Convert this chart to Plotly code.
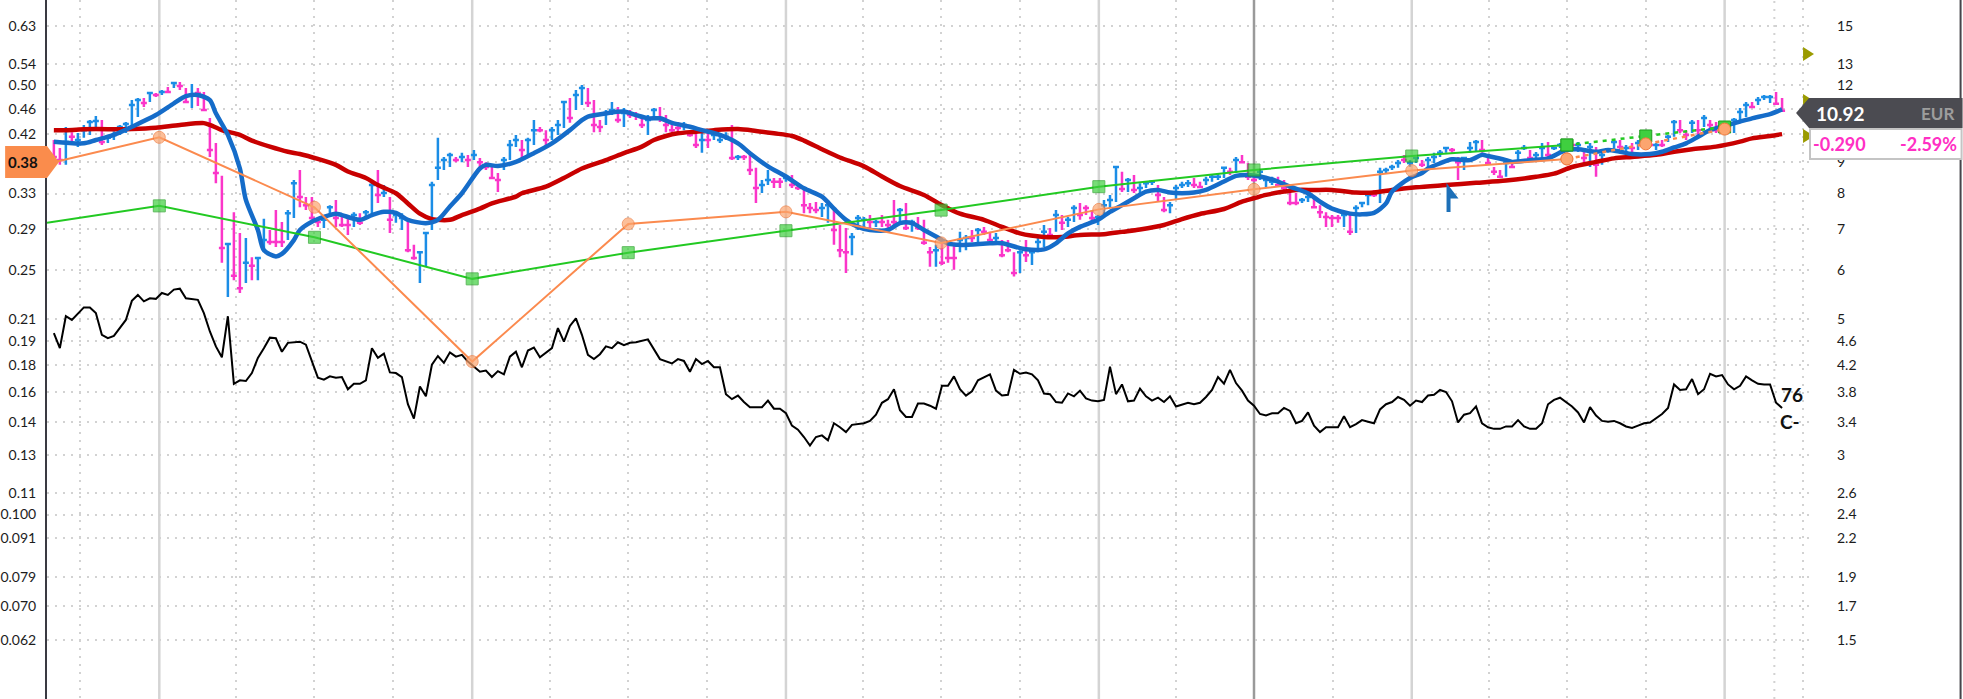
import numpy as np
import pandas as pd
import plotly.graph_objects as go

# ---------------- data ----------------
FIRST_BAR = "2018-08-31"   # weekly bars

BAR_HIGH = [
    9.78, 9.49, 10.27, 10.07, 10.04, 10.35, 10.54, 10.70, 10.54, 9.97,
    10.11, 10.35, 10.46, 11.36, 11.45, 11.45, 11.71, 11.67, 11.80, 11.93,
    12.16, 12.16, 11.89, 12.07, 11.89, 11.71, 10.62, 9.67, 8.55, 6.65,
    7.46, 6.90, 6.77, 6.30, 6.28, 7.28, 6.98, 7.52, 7.19, 7.52,
    8.42, 8.74, 7.90, 7.90, 7.33, 7.33, 7.66, 7.81, 7.38, 7.33,
    7.46, 7.43, 7.52, 8.36, 8.74, 8.26, 7.90, 7.46, 7.43, 7.30,
    6.60, 6.42, 6.90, 8.36, 9.86, 9.18, 9.32, 9.18, 9.32, 9.25,
    9.42, 9.14, 9.00, 8.91, 8.64, 9.18, 9.78, 9.97, 9.78, 9.86,
    10.54, 10.27, 10.15, 10.27, 10.54, 11.28, 11.45, 11.80, 12.02, 11.89,
    11.36, 10.54, 10.95, 11.28, 11.07, 11.03, 10.95, 10.86, 10.66, 10.74,
    11.03, 11.07, 10.74, 10.46, 10.46, 10.46, 10.15, 10.07, 10.07, 10.15,
    10.07, 10.04, 10.07, 10.35, 9.25, 9.25, 9.25, 8.81, 8.42, 8.74,
    8.48, 8.48, 8.58, 8.58, 8.32, 8.20, 7.72, 7.75, 7.72, 7.81,
    7.58, 7.11, 7.03, 6.90, 7.38, 7.33, 7.38, 7.25, 7.38, 7.25,
    7.81, 7.58, 7.72, 7.25, 7.33, 7.25, 6.55, 6.60, 6.67, 6.60,
    6.65, 6.93, 6.85, 6.98, 7.03, 7.06, 6.93, 6.90, 6.72, 6.72,
    6.42, 6.47, 6.72, 6.47, 6.77, 7.11, 7.03, 7.52, 7.38, 7.33,
    7.66, 7.72, 7.66, 7.52, 7.38, 7.81, 7.96, 8.84, 8.68, 8.48,
    8.58, 8.32, 8.36, 8.42, 8.26, 7.90, 7.75, 8.26, 8.36, 8.42,
    8.48, 8.36, 8.52, 8.58, 8.64, 8.84, 8.81, 9.18, 9.25, 8.97,
    8.52, 8.74, 8.52, 8.52, 8.52, 8.42, 8.11, 8.02, 7.87, 8.02,
    7.87, 7.66, 7.46, 7.38, 7.38, 7.46, 7.43, 7.66, 7.75, 8.02,
    8.11, 8.81, 8.81, 8.91, 9.07, 9.25, 9.07, 9.18, 9.07, 9.18,
    9.32, 9.42, 9.53, 9.49, 9.18, 9.18, 9.71, 9.78, 9.78, 9.18,
    8.84, 8.74, 9.07, 8.97, 9.42, 9.60, 9.42, 9.35, 9.67, 9.71,
    9.53, 9.67, 9.71, 9.78, 9.71, 9.35, 9.67, 9.53, 9.42, 9.49,
    9.78, 9.78, 9.60, 9.67, 9.78, 9.86, 9.86, 9.67, 9.78, 9.97,
    10.54, 10.54, 10.15, 10.54, 10.54, 10.74, 10.54, 10.46, 10.43, 10.35,
    10.62, 11.03, 11.28, 11.28, 11.49, 11.58, 11.58, 11.71, 11.45,
]
BAR_LOW = [
    9.00, 8.91, 8.91, 9.71, 9.53, 9.86, 9.97, 10.27, 9.60, 9.67,
    9.78, 9.97, 10.04, 10.15, 10.66, 11.07, 11.28, 11.49, 11.58, 11.67,
    11.89, 11.80, 11.24, 11.03, 11.11, 10.91, 9.18, 8.32, 6.17, 5.43,
    5.78, 5.51, 5.72, 5.78, 5.78, 6.42, 6.60, 6.55, 6.55, 6.72,
    7.30, 7.60, 7.52, 7.25, 7.06, 7.03, 7.33, 7.06, 7.06, 6.85,
    7.06, 7.11, 7.33, 7.33, 7.72, 7.90, 6.90, 7.17, 6.98, 6.42,
    6.24, 5.72, 6.08, 6.98, 8.42, 8.74, 8.84, 9.00, 9.00, 8.84,
    9.07, 8.74, 8.74, 8.48, 8.05, 8.74, 9.07, 9.53, 9.07, 9.25,
    9.60, 10.07, 9.49, 9.78, 9.97, 10.23, 10.43, 10.95, 11.15, 11.07,
    10.07, 10.07, 10.35, 10.74, 10.43, 10.27, 10.62, 10.54, 10.23, 9.97,
    10.66, 10.46, 10.07, 10.07, 10.07, 10.15, 9.90, 9.49, 9.32, 9.49,
    9.78, 9.67, 9.78, 9.07, 9.07, 9.07, 8.58, 7.72, 8.02, 8.26,
    8.17, 8.17, 8.36, 8.17, 8.11, 7.43, 7.43, 7.43, 7.33, 7.17,
    6.60, 6.30, 5.94, 6.35, 6.98, 7.03, 6.98, 7.06, 7.06, 7.03,
    7.06, 7.11, 6.98, 6.93, 6.98, 6.60, 6.08, 6.08, 6.12, 6.17,
    6.01, 6.42, 6.47, 6.67, 6.67, 6.85, 6.72, 6.60, 6.30, 6.42,
    5.86, 5.94, 6.19, 6.12, 6.42, 6.55, 6.80, 6.93, 6.98, 7.06,
    7.19, 7.25, 7.38, 7.19, 7.11, 7.38, 7.58, 7.75, 8.05, 8.05,
    8.02, 8.02, 8.17, 8.26, 7.75, 7.46, 7.43, 7.81, 8.17, 8.20,
    8.17, 8.17, 8.26, 8.36, 8.42, 8.48, 8.58, 8.64, 8.97, 8.42,
    8.36, 8.42, 8.20, 8.26, 8.20, 8.05, 7.66, 7.66, 7.72, 7.75,
    7.58, 7.30, 7.06, 7.06, 7.17, 7.06, 6.85, 6.90, 7.60, 7.66,
    7.90, 7.72, 8.64, 8.74, 8.81, 8.97, 8.84, 8.97, 8.84, 8.84,
    8.97, 9.18, 9.32, 9.32, 8.42, 8.74, 9.32, 9.35, 9.32, 8.91,
    8.58, 8.48, 8.52, 8.81, 8.97, 9.42, 9.07, 9.07, 9.14, 9.18,
    9.42, 9.49, 9.53, 9.53, 9.35, 9.00, 8.84, 8.52, 8.91, 9.32,
    9.42, 9.42, 9.32, 9.35, 9.42, 9.56, 9.53, 9.42, 9.53, 9.71,
    9.90, 10.04, 9.78, 10.04, 9.97, 10.27, 10.15, 10.04, 10.07, 10.07,
    10.04, 10.46, 10.66, 11.03, 11.15, 11.36, 11.24, 11.15, 10.86,
]
BAR_CLOSE = [
    9.18, 9.07, 9.71, 9.90, 9.78, 10.15, 10.46, 10.50, 9.71, 9.86,
    9.97, 10.27, 10.39, 11.15, 11.36, 11.24, 11.67, 11.58, 11.71, 11.71,
    12.11, 11.98, 11.28, 11.58, 11.67, 10.95, 9.42, 8.64, 6.52, 6.62,
    5.88, 5.61, 6.17, 6.10, 6.28, 6.72, 6.67, 6.67, 6.67, 7.43,
    8.32, 7.90, 7.66, 7.30, 7.19, 7.25, 7.60, 7.30, 7.11, 7.11,
    7.38, 7.17, 7.46, 8.26, 7.96, 8.02, 7.25, 7.38, 7.30, 6.47,
    6.28, 6.42, 6.90, 8.26, 8.81, 9.07, 9.25, 9.07, 9.18, 9.07,
    9.25, 9.00, 8.84, 8.48, 8.42, 9.07, 9.60, 9.78, 9.42, 9.78,
    10.15, 10.15, 9.78, 10.15, 10.35, 11.28, 10.62, 11.58, 11.89, 11.24,
    10.35, 10.27, 10.82, 10.95, 10.54, 10.82, 10.74, 10.74, 10.35, 10.54,
    10.95, 10.62, 10.35, 10.15, 10.23, 10.35, 9.97, 9.60, 9.78, 9.78,
    9.97, 9.78, 9.90, 9.14, 9.18, 9.18, 8.74, 8.17, 8.26, 8.42,
    8.36, 8.36, 8.48, 8.26, 8.17, 7.66, 7.58, 7.52, 7.58, 7.66,
    6.98, 6.47, 6.42, 6.80, 7.30, 7.25, 7.19, 7.19, 7.19, 7.11,
    7.19, 7.52, 7.03, 7.19, 7.03, 6.65, 6.42, 6.47, 6.17, 6.28,
    6.28, 6.72, 6.77, 6.77, 6.98, 6.93, 6.72, 6.77, 6.35, 6.47,
    5.94, 6.42, 6.35, 6.42, 6.67, 6.93, 6.85, 7.38, 7.17, 7.25,
    7.58, 7.38, 7.58, 7.30, 7.33, 7.66, 7.81, 8.84, 8.14, 8.42,
    8.11, 8.17, 8.32, 8.36, 7.96, 7.52, 7.66, 8.17, 8.26, 8.32,
    8.26, 8.20, 8.42, 8.52, 8.52, 8.81, 8.68, 9.07, 9.00, 8.52,
    8.42, 8.68, 8.42, 8.36, 8.26, 8.17, 7.72, 7.72, 7.81, 7.90,
    7.60, 7.46, 7.33, 7.30, 7.30, 7.38, 6.93, 7.58, 7.72, 7.96,
    7.96, 8.68, 8.74, 8.84, 8.97, 9.07, 8.97, 9.14, 8.91, 9.07,
    9.18, 9.32, 9.49, 9.42, 9.00, 9.14, 9.49, 9.71, 9.42, 8.97,
    8.68, 8.52, 8.97, 8.84, 9.32, 9.49, 9.14, 9.25, 9.49, 9.25,
    9.49, 9.60, 9.67, 9.60, 9.60, 9.14, 9.53, 8.91, 9.25, 9.42,
    9.71, 9.53, 9.49, 9.49, 9.67, 9.78, 9.60, 9.60, 9.60, 9.90,
    10.46, 10.15, 9.97, 10.43, 10.15, 10.62, 10.35, 10.15, 10.27, 10.27,
    10.54, 10.86, 11.15, 11.07, 11.36, 11.49, 11.49, 11.21, 10.92,
]
# u = blue (up) bar, d = magenta (down) bar
BAR_DIR = ("dduduuuudu" "uuuuududud" "uddudddddu" "dduduudddu" "udddduuddd"
           "uduududuud" "duuuuuudud" "udddduuudu" "udduuuduud" "dduududddu"
           "udddduddud" "uuududdduu" "dduddddduu" "ddduuududd" "dududddudd"
           "duududdudd" "duduuududu" "uddduuuudu" "duuudduuuu" "dduuuududd"
           "duuudddduu" "ddddduduuu" "duuuuduudu" "uuudduuudd" "dduduuduud"
           "uuudududuu" "ududuududu" "uddududduu" "uuuduuudd")

# black relative-strength line (bar index, value)
BLACK_IDX = ([0, 1, 2, 3, 5, 6, 7, 8, 9, 10, 12, 13, 14, 15, 16, 17, 18, 19, 20, 21,
              22, 24, 25, 26, 27, 28, 29, 30, 31, 32, 33, 34, 35, 36, 37, 38, 39, 41, 42, 44,
              45, 46, 47, 48, 49, 50, 51, 52, 53, 54, 55, 56, 57, 58, 59, 60, 61, 62, 63, 64,
              65, 66, 67, 68, 69, 71, 72, 73, 74, 75, 76, 77, 78, 79, 80, 81, 83, 84, 85, 86,
              87, 88, 89, 90, 91, 92, 93, 94, 95, 96, 97, 99, 101, 103, 104, 105, 106, 107, 108, 109,
              110, 111, 112, 113, 114, 115, 116, 118, 119, 120, 121, 122, 123, 124, 125, 126, 127, 128, 129, 130,
              131, 132, 133, 135, 136, 137, 138, 139, 140, 141, 142, 143, 144, 145, 146, 147, 148, 149, 150, 151,
              152, 153, 154, 156, 157, 158, 159]
             + list(range(160, 289)))
BLACK_VAL = [
    4.74, 4.48, 5.05, 4.98, 5.22, 5.22, 5.11, 4.71, 4.65, 4.69, 4.98, 5.35, 5.47, 5.34, 5.40, 5.39, 5.51, 5.47, 5.58, 5.60,
    5.40, 5.37, 5.11, 4.77, 4.51, 4.33, 5.05, 3.92, 3.97, 3.96, 4.08, 4.32, 4.48, 4.66, 4.65, 4.42, 4.57, 4.59, 4.54, 4.01,
    3.98, 4.03, 4.01, 4.02, 3.84, 3.92, 3.92, 3.97, 4.48, 4.32, 4.39, 4.09, 4.08, 4.02, 3.63, 3.44, 3.88, 3.74, 4.21, 4.35,
    4.24, 4.41, 4.34, 4.37, 4.26, 4.10, 4.12, 4.02, 4.11, 4.06, 4.34, 4.42, 4.17, 4.44, 4.49, 4.33, 4.48, 4.83, 4.59, 4.87,
    5.01, 4.71, 4.37, 4.30, 4.38, 4.51, 4.48, 4.58, 4.53, 4.57, 4.58, 4.63, 4.30, 4.23, 4.30, 4.27, 4.10, 4.30, 4.22, 4.27,
    4.17, 4.17, 3.77, 3.70, 3.75, 3.66, 3.59, 3.59, 3.68, 3.57, 3.57, 3.51, 3.35, 3.30, 3.21, 3.11, 3.21, 3.23, 3.17, 3.38,
    3.33, 3.27, 3.36, 3.38, 3.41, 3.49, 3.65, 3.70, 3.84, 3.55, 3.46, 3.46, 3.64, 3.64, 3.61, 3.57, 3.89, 3.89, 4.03, 3.84,
    3.75, 3.81, 3.97, 4.06, 3.82, 3.75, 3.76,
    4.13, 4.07, 4.09, 4.06, 3.97, 3.78, 3.77, 3.66, 3.65, 3.78,
    3.74, 3.82, 3.71, 3.68, 3.67, 3.69, 4.18, 3.77, 3.91, 3.67,
    3.68, 3.85, 3.74, 3.68, 3.72, 3.66, 3.74, 3.60, 3.63, 3.65,
    3.63, 3.65, 3.73, 3.83, 4.02, 3.92, 4.13, 3.93, 3.82, 3.68,
    3.61, 3.50, 3.48, 3.51, 3.51, 3.58, 3.54, 3.38, 3.41, 3.52,
    3.35, 3.27, 3.33, 3.33, 3.33, 3.47, 3.33, 3.37, 3.42, 3.40,
    3.38, 3.56, 3.63, 3.66, 3.73, 3.69, 3.61, 3.68, 3.66, 3.75,
    3.76, 3.83, 3.80, 3.67, 3.39, 3.49, 3.51, 3.60, 3.38, 3.33,
    3.31, 3.31, 3.34, 3.34, 3.42, 3.34, 3.31, 3.31, 3.38, 3.63,
    3.69, 3.72, 3.66, 3.60, 3.52, 3.39, 3.59, 3.48, 3.41, 3.40,
    3.41, 3.38, 3.34, 3.32, 3.35, 3.38, 3.39, 3.44, 3.50, 3.58,
    3.91, 3.83, 3.84, 3.99, 3.77, 3.84, 4.07, 4.03, 4.05, 3.91,
    3.84, 3.89, 4.03, 3.97, 3.92, 3.91, 3.91, 3.65, 3.58,
]

# short (blue) moving average, sampled
BLUE_MA_IDX = [0, 5, 7, 10, 13, 17, 20, 22, 24, 26, 27, 29, 31, 32, 34, 35, 37, 38, 40, 41,
               43, 45, 47, 48, 51, 53, 55, 57, 59, 62, 64, 66, 68, 71, 72, 74, 77, 80, 83, 86,
               88, 89, 92, 95, 97, 99, 101, 103, 106, 108, 111, 114, 116, 119, 122, 125, 128, 130, 132, 134,
               136, 139, 141, 143, 145, 147, 149, 151, 156, 158, 161, 162, 165, 167, 169, 171, 174, 176, 178, 180,
               182, 184, 186, 188, 190, 192, 195, 197, 199, 201, 204, 206, 209, 211, 213, 216, 218, 220, 222, 223,
               226, 228, 229, 231, 233, 236, 238, 239, 242, 243, 246, 249, 252, 254, 257, 259, 261, 263, 266, 268,
               270, 272, 274, 276, 279, 281, 283, 286, 288]
BLUE_MA_VAL = [9.72, 9.66, 9.78, 9.97, 10.28, 10.74, 11.22, 11.53, 11.58, 11.36, 10.81, 9.97, 8.79, 7.81, 6.98, 6.47, 6.32, 6.38, 6.72, 6.98,
               7.20, 7.33, 7.42, 7.38, 7.25, 7.38, 7.47, 7.44, 7.25, 7.16, 7.25, 7.62, 8.01, 8.79, 8.91, 8.87, 9.01, 9.31, 9.66, 10.15,
               10.54, 10.68, 10.81, 10.88, 10.74, 10.61, 10.61, 10.43, 10.28, 10.15, 9.97, 9.66, 9.31, 8.86, 8.53, 8.16, 7.91, 7.56, 7.25, 7.06,
               6.98, 6.98, 7.16, 7.16, 6.98, 6.81, 6.64, 6.60, 6.64, 6.64, 6.52, 6.49, 6.49, 6.64, 6.89, 7.06, 7.25, 7.47, 7.66, 7.86,
               8.06, 8.11, 8.03, 8.01, 8.03, 8.11, 8.37, 8.55, 8.58, 8.53, 8.37, 8.21, 8.01, 7.76, 7.56, 7.42, 7.40, 7.44, 7.71, 8.06,
               8.48, 8.64, 8.79, 8.96, 9.10, 9.07, 9.25, 9.21, 9.07, 9.01, 9.07, 9.13, 9.42, 9.45, 9.36, 9.42, 9.36, 9.28, 9.28, 9.36,
               9.51, 9.66, 9.90, 10.15, 10.35, 10.48, 10.61, 10.78, 10.97]

# long (red) moving average, sampled
RED_MA_IDX = [0, 2, 5, 7, 11, 13, 17, 21, 25, 26, 28, 31, 33, 36, 39, 41, 44, 47, 49, 52,
              54, 57, 59, 61, 63, 66, 68, 71, 73, 77, 78, 82, 85, 88, 92, 95, 98, 100, 102, 104,
              107, 110, 114, 117, 120, 123, 125, 128, 131, 135, 138, 141, 145, 148, 151, 155, 158, 161, 165, 168,
              171, 175, 178, 181, 185, 188, 191, 195, 198, 200, 202, 205, 207, 210, 213, 217, 220, 223, 227, 232,
              237, 242, 247, 250, 253, 257, 260, 263, 267, 270, 273, 277, 281, 283, 286, 288]
RED_MA_VAL = [10.15, 10.15, 10.18, 10.19, 10.18, 10.19, 10.24, 10.35, 10.42, 10.35, 10.15, 9.97, 9.76, 9.54, 9.36, 9.28, 9.11, 8.91, 8.69, 8.48,
              8.26, 8.01, 7.71, 7.42, 7.27, 7.25, 7.38, 7.56, 7.71, 7.91, 8.01, 8.21, 8.48, 8.79, 9.07, 9.31, 9.54, 9.78, 9.93, 10.03,
              10.09, 10.15, 10.19, 10.12, 10.03, 9.93, 9.76, 9.45, 9.16, 8.86, 8.53, 8.23, 7.96, 7.66, 7.42, 7.25, 7.06, 6.89, 6.80, 6.80,
              6.85, 6.87, 6.93, 6.99, 7.11, 7.27, 7.41, 7.55, 7.76, 7.86, 7.96, 8.06, 8.11, 8.11, 8.11, 8.03, 8.03, 8.11, 8.19, 8.26,
              8.33, 8.40, 8.52, 8.62, 8.84, 9.01, 9.13, 9.18, 9.25, 9.36, 9.45, 9.54, 9.72, 9.84, 9.93, 10.00]

# half-yearly marker lines
ORANGE_DATES = ["2018-08-31", "2019-01-01", "2019-07-01", "2020-01-01", "2020-07-01", "2021-01-01", "2021-07-01",
                "2022-01-01", "2022-07-01", "2023-01-01", "2023-07-01", "2023-10-01", "2024-01-01"]
ORANGE_VAL = [9.00, 9.88, 7.60, 4.26, 7.14, 7.47, 6.65, 7.54, 8.13, 8.72, 9.11, 9.64, 10.19]
GREEN_DATES = ["2018-08-23", "2019-01-01", "2019-07-01", "2020-01-01", "2020-07-01", "2021-01-01", "2021-07-01",
               "2022-01-01", "2022-07-01", "2023-01-01", "2023-07-01", "2023-10-01", "2024-01-01"]
GREEN_VAL = [7.17, 7.64, 6.79, 5.81, 6.41, 6.96, 7.52, 8.21, 8.74, 9.21, 9.60, 9.93, 10.27]

RIGHT_TICKS = [1.5, 1.7, 1.9, 2.2, 2.4, 2.6, 3, 3.4, 3.8, 4.2, 4.6, 5, 6, 7, 8, 9, 10, 11, 12, 13, 15]
# 10 and 11 sit under the price tag in the reference, so their labels are not shown
RIGHT_LABELS = ["1.5", "1.7", "1.9", "2.2", "2.4", "2.6", "3", "3.4", "3.8", "4.2", "4.6", "5", "6", "7", "8",
                "9", "", "", "12", "13", "15"]
LEFT_LABELS = ["0.062", "0.070", "0.079", "0.091", "0.100", "0.11", "0.13", "0.14", "0.16", "0.18", "0.19",
               "0.21", "0.25", "0.29", "0.33", "", "0.42", "0.46", "0.50", "0.54", "0.63"]

YEAR_LINES = ["2019-01-01", "2020-01-01", "2021-01-01", "2022-01-01", "2023-01-01", "2024-01-01"]
MID_LINE = "2022-07-01"
EXTRA_DOT_LINE = "2024-02-28"

LAST_PRICE = "10.92"
CURRENCY = "EUR"
CHANGE_ABS = "-0.290"
CHANGE_PCT = "-2.59%"
LEFT_TAG = "0.38"
RATING_1 = "76"
RATING_2 = "C-"

# ---------------- layout constants ----------------
W, H = 1963, 699
ML, MR = 42, 151
FONT = "Lato, 'Open Sans', sans-serif"
BAR_BLUE = "#1b8de6"
BAR_PINK = "#fb35c9"
GRID = "#d2d2d2"
GRID_DASH = "2px,6px"


def PX(x):
    return (x - ML) / (W - ML - MR)


def PY(y):
    return 1 - y / H


start = pd.Timestamp(FIRST_BAR)


def idx_dates(idx):
    return start + pd.to_timedelta(7 * np.asarray(idx), unit="D")


n = len(BAR_CLOSE)
assert len(BAR_HIGH) == n and len(BAR_LOW) == n and len(BAR_DIR) == n
assert len(BLACK_IDX) == len(BLACK_VAL)
assert len(BLUE_MA_IDX) == len(BLUE_MA_VAL)
assert len(RED_MA_IDX) == len(RED_MA_VAL)
dates = idx_dates(np.arange(n))

fig = go.Figure()

# price bars (cross at close), split by colour
for flag, col in (("u", BAR_BLUE), ("d", BAR_PINK)):
    sel = [i for i, c in enumerate(BAR_DIR) if c == flag]
    fig.add_trace(go.Ohlc(
        x=dates[sel],
        open=[BAR_CLOSE[i] for i in sel],
        high=[BAR_HIGH[i] for i in sel],
        low=[BAR_LOW[i] for i in sel],
        close=[BAR_CLOSE[i] for i in sel],
        increasing=dict(line=dict(color=col, width=2.5)),
        decreasing=dict(line=dict(color=col, width=2.5)),
        tickwidth=0.5, hoverinfo="skip", showlegend=False,
    ))

fig.add_trace(go.Scatter(x=idx_dates(BLACK_IDX), y=BLACK_VAL, mode="lines",
                         line=dict(color="#000000", width=2), hoverinfo="skip", showlegend=False))
fig.add_trace(go.Scatter(x=idx_dates(RED_MA_IDX), y=RED_MA_VAL, mode="lines",
                         line=dict(color="#c80000", width=4.5, shape="spline", smoothing=0.8),
                         hoverinfo="skip", showlegend=False))
fig.add_trace(go.Scatter(x=idx_dates(BLUE_MA_IDX), y=BLUE_MA_VAL, mode="lines",
                         line=dict(color="#156cc9", width=4.5, shape="spline", smoothing=0.8),
                         hoverinfo="skip", showlegend=False))

k = ORANGE_DATES.index("2023-07-01")
for dts, vals, col, mcol, mline, sym in (
        (GREEN_DATES, GREEN_VAL, "#22c922", "#3fcf3f", "#1e9e1e", "square"),
        (ORANGE_DATES, ORANGE_VAL, "#fb8a4e", "#fca56f", "#f0783a", "circle")):
    sizes = [0] + [12] * k
    fig.add_trace(go.Scatter(x=dts[:k + 1], y=vals[:k + 1], mode="lines+markers",
                             line=dict(color=col, width=2),
                             marker=dict(symbol=sym, size=sizes, color=mcol, line=dict(color=mline, width=1)),
                             hoverinfo="skip", showlegend=False))
    fig.add_trace(go.Scatter(x=dts[k:], y=vals[k:], mode="lines+markers",
                             line=dict(color=col, width=2.5, dash="4px,5px"),
                             marker=dict(symbol=sym, size=12, color=mcol, line=dict(color=mline, width=1)),
                             hoverinfo="skip", showlegend=False))

# invisible anchor for the left (mirrored) axis
fig.add_trace(go.Scatter(x=dates[:1], y=RIGHT_TICKS[:1], yaxis="y2", mode="markers",
                         marker=dict(opacity=0), hoverinfo="skip", showlegend=False))

yrange = [np.log10(1.2015), np.log10(16.537)]
solid_days = set(pd.to_datetime(YEAR_LINES + [MID_LINE]))
quarters = [q for q in pd.date_range("2018-10-01", "2024-04-01", freq="QS") if q not in solid_days]

fig.update_layout(
    width=W, height=H,
    margin=dict(l=ML, r=MR, t=0, b=0, pad=0),
    paper_bgcolor="white", plot_bgcolor="white",
    font=dict(family=FONT, size=14, color="#1c1c1c"),
    showlegend=False, hovermode=False,
    xaxis=dict(type="date", range=["2018-08-23", "2024-04-11 22:00"],
               rangeslider=dict(visible=False),
               tickvals=quarters, showticklabels=False, ticks="",
               showgrid=True, gridcolor=GRID, gridwidth=2, griddash=GRID_DASH,
               showline=False, zeroline=False, fixedrange=True),
    yaxis=dict(type="log", range=yrange, side="right",
               tickvals=RIGHT_TICKS, ticktext=RIGHT_LABELS, ticks="",
               ticklabelstandoff=24,
               tickfont=dict(family=FONT, size=14, color="#1c1c1c"),
               showgrid=True, gridcolor=GRID, gridwidth=2, griddash=GRID_DASH,
               showline=False, zeroline=False, fixedrange=True),
    yaxis2=dict(type="log", range=yrange, side="left", overlaying="y", anchor="x",
                tickvals=RIGHT_TICKS, ticktext=LEFT_LABELS, ticks="",
                ticklabelstandoff=6,
                tickfont=dict(family=FONT, size=14, color="#1c1c1c"),
                showgrid=False, zeroline=False,
                showline=True, linecolor="#3a3a42", linewidth=2, fixedrange=True),
)

shapes = []
for d in YEAR_LINES:
    shapes.append(dict(type="line", xref="x", yref="paper", x0=d, x1=d, y0=0, y1=1,
                       line=dict(color="#d4d4d4", width=2.5), layer="between"))
shapes.append(dict(type="line", xref="x", yref="paper", x0=MID_LINE, x1=MID_LINE, y0=0, y1=1,
                   line=dict(color="#9a9a9a", width=2.5), layer="between"))
shapes.append(dict(type="line", xref="x", yref="paper", x0=EXTRA_DOT_LINE, x1=EXTRA_DOT_LINE, y0=0, y1=1,
                   line=dict(color=GRID, width=2, dash=GRID_DASH), layer="between"))

# right frame line
shapes.append(dict(type="line", xref="paper", yref="paper", x0=PX(1961), x1=PX(1961), y0=0, y1=1,
                   line=dict(color="#45454b", width=2)))


def path(points):
    return "M " + " L ".join(f"{PX(x):.5f},{PY(y):.5f}" for x, y in points) + " Z"


# olive target triangles
for cy in (54, 101, 136):
    shapes.append(dict(type="path", xref="paper", yref="paper",
                       path=path([(1803, cy - 7), (1814, cy), (1803, cy + 7)]),
                       fillcolor="#9b9b00", line=dict(width=0)))
# last price tag
shapes.append(dict(type="path", xref="paper", yref="paper",
                   path=path([(1796, 113), (1809, 98), (1963, 98), (1963, 128), (1809, 128)]),
                   fillcolor="#4b4b51", line=dict(width=0)))
shapes.append(dict(type="rect", xref="paper", yref="paper",
                   x0=PX(1810), x1=PX(1962), y0=PY(159), y1=PY(129),
                   fillcolor="white", line=dict(color="#c4c4c4", width=2)))
# left orange value tag
shapes.append(dict(type="path", xref="paper", yref="paper",
                   path=path([(0, 146), (42, 146), (54, 162), (42, 178), (0, 178)]),
                   fillcolor="#fa8c4c", line=dict(width=0)))
# blue flag marker
shapes.append(dict(type="path", xref="paper", yref="paper",
                   path=path([(1445.5, 212), (1445.5, 183), (1457.5, 198.5), (1449.5, 198.5), (1449.5, 212)]),
                   fillcolor="#1d70b8", line=dict(width=0)))
fig.update_layout(shapes=shapes)

ann = [
    dict(text=f"<b>{LAST_PRICE}</b>", x=PX(1814), y=PY(113), xanchor="left", yanchor="middle",
         font=dict(family=FONT, size=19, color="white")),
    dict(text=f"<b>{CURRENCY}</b>", x=PX(1956), y=PY(113), xanchor="right", yanchor="middle",
         font=dict(family=FONT, size=17, color="#9d9d9d")),
    dict(text=f"<b>{CHANGE_ABS}</b>", x=PX(1811), y=PY(144), xanchor="left", yanchor="middle",
         font=dict(family=FONT, size=18, color="#ff2fc4")),
    dict(text=f"<b>{CHANGE_PCT}</b>", x=PX(1959), y=PY(144), xanchor="right", yanchor="middle",
         font=dict(family=FONT, size=18, color="#ff2fc4")),
    dict(text=f"<b>{LEFT_TAG}</b>", x=PX(1), y=PY(162), xanchor="left", yanchor="middle",
         font=dict(family=FONT, size=15, color="#111111")),
    dict(text=f"<b>{RATING_1}</b>", x=PX(1792), y=PY(395), xanchor="center", yanchor="middle",
         font=dict(family=FONT, size=19, color="#111111")),
    dict(text=f"<b>{RATING_2}</b>", x=PX(1790), y=PY(422), xanchor="center", yanchor="middle",
         font=dict(family=FONT, size=19, color="#111111")),
]
for a in ann:
    a.update(xref="paper", yref="paper", showarrow=False)
fig.update_layout(annotations=ann)

fig.write_html("out.html", include_plotlyjs=True, config={"displayModeBar": False, "staticPlot": True},
               post_script="document.body.style.margin='0';document.body.style.overflow='hidden';")
